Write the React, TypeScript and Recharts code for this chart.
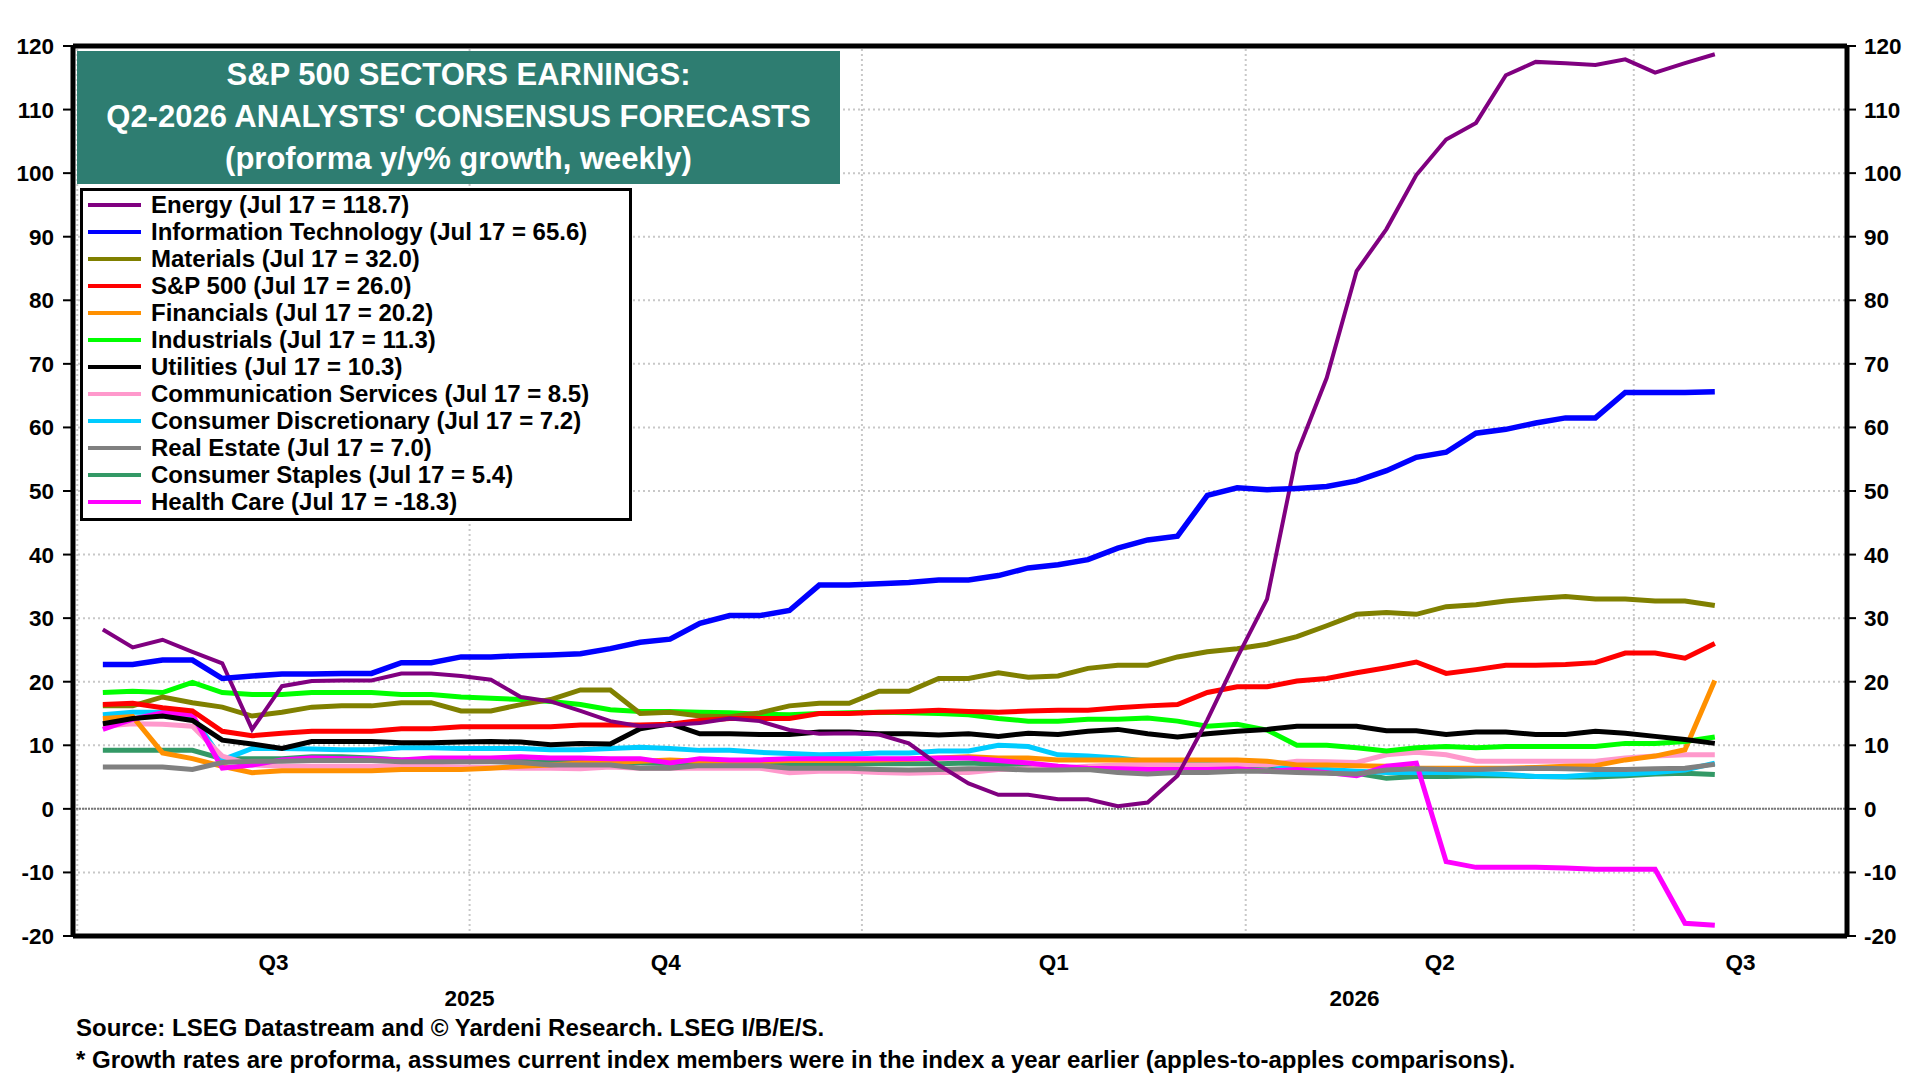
import React from 'react';
import { LineChart, Line, XAxis, YAxis, CartesianGrid, ReferenceLine, Legend } from 'recharts';

const FONT = "'Liberation Sans', Arial, Helvetica, sans-serif";

// Weekly observation dates (plotted positions)
const WEEK_DATES = [
  '2025-07-07', '2025-07-14', '2025-07-21', '2025-07-28', '2025-08-04', '2025-08-11', '2025-08-18', '2025-08-25',
  '2025-09-01', '2025-09-08', '2025-09-15', '2025-09-22', '2025-09-29', '2025-10-06', '2025-10-13', '2025-10-20',
  '2025-10-27', '2025-11-03', '2025-11-10', '2025-11-17', '2025-11-24', '2025-12-01', '2025-12-08', '2025-12-15',
  '2025-12-22', '2025-12-29', '2026-01-05', '2026-01-12', '2026-01-19', '2026-01-26', '2026-02-02', '2026-02-09',
  '2026-02-16', '2026-02-23', '2026-03-02', '2026-03-09', '2026-03-16', '2026-03-23', '2026-03-30', '2026-04-06',
  '2026-04-13', '2026-04-20', '2026-04-27', '2026-05-04', '2026-05-11', '2026-05-18', '2026-05-25', '2026-06-01',
  '2026-06-08', '2026-06-15', '2026-06-22', '2026-06-29', '2026-07-06', '2026-07-13', '2026-07-20',
];

const ENERGY = [28.2, 25.4, 26.6, 24.7, 22.9, 12.5, 19.3, 20.1, 20.2, 20.2, 21.3, 21.3, 20.9, 20.3, 17.6, 16.9, 15.4, 13.8, 13.0, 13.2, 13.5, 14.2, 13.8, 12.4, 11.8, 11.9, 11.7, 10.3, 6.9, 4.0, 2.2, 2.2, 1.5, 1.5, 0.4, 1.0, 5.2, 14.0, 23.8, 33.0, 55.9, 67.8, 84.6, 91.2, 99.7, 105.3, 107.9, 115.4, 117.5, 117.3, 117.0, 117.9, 115.8, 117.3, 118.7];
const INFO_TECH = [22.7, 22.7, 23.4, 23.4, 20.5, 20.9, 21.2, 21.2, 21.3, 21.3, 23.0, 23.0, 23.9, 23.9, 24.1, 24.2, 24.4, 25.2, 26.2, 26.7, 29.2, 30.4, 30.4, 31.2, 35.2, 35.2, 35.4, 35.6, 36.0, 36.0, 36.7, 37.9, 38.4, 39.2, 41.0, 42.3, 42.9, 49.3, 50.5, 50.2, 50.4, 50.7, 51.6, 53.2, 55.3, 56.1, 59.1, 59.7, 60.7, 61.5, 61.5, 65.5, 65.5, 65.5, 65.6];
const MATERIALS = [16.2, 16.2, 17.6, 16.7, 16.0, 14.6, 15.2, 16.0, 16.2, 16.2, 16.7, 16.7, 15.4, 15.4, 16.4, 17.2, 18.7, 18.7, 15.0, 15.2, 14.6, 14.5, 15.1, 16.2, 16.6, 16.6, 18.5, 18.5, 20.5, 20.5, 21.4, 20.7, 20.9, 22.1, 22.6, 22.6, 23.9, 24.7, 25.2, 25.9, 27.1, 28.8, 30.6, 30.9, 30.6, 31.8, 32.1, 32.7, 33.1, 33.4, 33.0, 33.0, 32.7, 32.7, 32.0];
const SP500 = [16.4, 16.6, 15.9, 15.4, 12.2, 11.5, 11.9, 12.2, 12.2, 12.2, 12.6, 12.6, 12.9, 12.9, 12.9, 12.9, 13.2, 13.2, 13.2, 13.3, 13.9, 14.2, 14.2, 14.2, 15.0, 15.0, 15.2, 15.3, 15.5, 15.3, 15.2, 15.4, 15.5, 15.5, 15.9, 16.2, 16.4, 18.3, 19.2, 19.2, 20.1, 20.5, 21.4, 22.2, 23.1, 21.3, 21.9, 22.6, 22.6, 22.7, 23.0, 24.5, 24.5, 23.7, 26.0];
const FINANCIALS = [14.2, 14.5, 8.8, 7.9, 6.7, 5.7, 6.0, 6.0, 6.0, 6.0, 6.2, 6.2, 6.2, 6.4, 6.7, 6.9, 7.2, 7.3, 7.5, 7.7, 7.5, 7.5, 7.5, 7.6, 7.6, 7.6, 7.7, 7.8, 8.0, 8.2, 8.0, 8.0, 7.7, 7.7, 7.7, 7.7, 7.7, 7.7, 7.7, 7.5, 6.9, 6.9, 6.8, 6.7, 6.4, 6.4, 6.4, 6.4, 6.5, 6.7, 6.8, 7.7, 8.3, 9.3, 20.2];
const INDUSTRIALS = [18.3, 18.5, 18.3, 19.9, 18.3, 18.0, 18.0, 18.3, 18.3, 18.3, 18.0, 18.0, 17.6, 17.4, 17.2, 16.9, 16.4, 15.6, 15.3, 15.3, 15.2, 15.1, 14.9, 14.8, 15.0, 15.1, 15.2, 15.1, 15.0, 14.8, 14.2, 13.8, 13.8, 14.1, 14.1, 14.3, 13.8, 13.0, 13.3, 12.4, 10.0, 10.0, 9.6, 9.1, 9.6, 9.8, 9.6, 9.8, 9.8, 9.8, 9.8, 10.3, 10.3, 10.6, 11.3];
const UTILITIES = [13.4, 14.2, 14.6, 13.9, 10.8, 10.2, 9.5, 10.6, 10.6, 10.6, 10.4, 10.4, 10.5, 10.6, 10.5, 10.1, 10.3, 10.2, 12.6, 13.4, 11.8, 11.8, 11.7, 11.7, 12.1, 12.1, 11.8, 11.8, 11.6, 11.8, 11.4, 11.9, 11.7, 12.2, 12.5, 11.8, 11.3, 11.8, 12.2, 12.5, 13.0, 13.0, 13.0, 12.3, 12.3, 11.7, 12.1, 12.1, 11.7, 11.7, 12.2, 11.9, 11.4, 10.9, 10.3];
const COMM_SERVICES = [13.0, 13.4, 13.3, 13.0, 8.3, 6.9, 6.7, 6.7, 6.7, 6.7, 6.7, 6.7, 6.6, 6.5, 6.4, 6.4, 6.3, 6.6, 6.4, 6.4, 6.4, 6.4, 6.4, 5.7, 5.9, 5.9, 5.7, 5.6, 5.7, 5.7, 6.2, 6.3, 6.4, 6.7, 6.9, 7.0, 6.9, 6.9, 7.0, 6.9, 7.5, 7.4, 7.3, 8.5, 8.9, 8.5, 7.5, 7.5, 7.5, 7.5, 7.5, 8.0, 8.3, 8.5, 8.5];
const CONS_DISCRETIONARY = [14.8, 15.2, 15.2, 14.6, 7.7, 9.5, 9.5, 9.4, 9.3, 9.3, 9.6, 9.6, 9.5, 9.5, 9.5, 9.3, 9.3, 9.5, 9.7, 9.5, 9.2, 9.2, 8.9, 8.7, 8.5, 8.6, 8.8, 8.8, 9.1, 9.1, 10.0, 9.8, 8.5, 8.3, 8.0, 7.5, 7.3, 7.2, 7.2, 7.1, 6.4, 6.2, 5.9, 5.7, 5.7, 5.7, 5.6, 5.4, 5.1, 5.1, 5.4, 5.5, 5.7, 6.1, 7.2];
const REAL_ESTATE = [6.6, 6.6, 6.6, 6.2, 7.3, 7.5, 7.5, 7.6, 7.6, 7.6, 7.4, 7.4, 7.4, 7.4, 7.3, 6.9, 6.9, 6.9, 6.4, 6.4, 6.8, 6.8, 6.8, 6.4, 6.4, 6.4, 6.2, 6.1, 6.2, 6.3, 6.3, 6.1, 6.1, 6.2, 5.7, 5.5, 5.7, 5.7, 5.9, 5.9, 5.7, 5.6, 5.5, 6.1, 6.3, 6.2, 6.2, 6.3, 6.4, 6.3, 6.2, 6.2, 6.3, 6.4, 7.0];
const CONS_STAPLES = [9.2, 9.2, 9.2, 9.2, 7.9, 7.9, 7.9, 8.2, 8.2, 8.0, 7.7, 7.7, 7.7, 7.7, 7.5, 7.3, 7.3, 7.2, 7.2, 7.1, 7.1, 7.1, 7.1, 7.1, 7.1, 7.1, 7.1, 7.1, 7.1, 7.2, 7.0, 6.7, 6.6, 6.4, 6.4, 6.4, 6.4, 6.5, 6.7, 6.7, 6.3, 5.7, 5.6, 4.8, 5.1, 5.1, 5.2, 5.2, 5.1, 5.0, 5.0, 5.2, 5.5, 5.6, 5.4];
const HEALTH_CARE = [12.5, 14.1, 15.1, 14.8, 6.4, 6.9, 7.7, 8.0, 7.9, 7.9, 7.7, 8.0, 8.0, 8.0, 8.2, 8.0, 8.0, 7.9, 7.9, 7.2, 7.9, 7.7, 7.7, 7.9, 7.9, 7.9, 7.9, 7.9, 8.0, 8.0, 7.6, 7.2, 6.7, 6.4, 6.3, 6.2, 6.2, 6.2, 6.3, 5.9, 6.2, 5.7, 5.2, 6.7, 7.2, -8.3, -9.2, -9.2, -9.2, -9.3, -9.5, -9.5, -9.5, -18.0, -18.3];

// Axis calendar
const AXIS_START = '2025-06-30';
const AXIS_END = '2026-08-20';
const MONTH_STARTS = [
  '2025-07-01', '2025-08-01', '2025-09-01', '2025-10-01', '2025-11-01', '2025-12-01', '2026-01-01',
  '2026-02-01', '2026-03-01', '2026-04-01', '2026-05-01', '2026-06-01', '2026-07-01', '2026-08-01',
];
const QUARTER_STARTS = ['2025-07-01', '2025-10-01', '2026-01-01', '2026-04-01', '2026-07-01'];
const QUARTER_LABELS = ['Q3', 'Q4', 'Q1', 'Q2', 'Q3'];
const YEAR_STARTS = ['2025-07-01', '2026-01-01'];
const YEAR_LABELS = ['2025', '2026'];
const Y_TICKS = [-20, -10, 0, 10, 20, 30, 40, 50, 60, 70, 80, 90, 100, 110, 120];

const SERIES = [
  { key: 'energy', name: 'Energy', note: 'Jul 17 = 118.7', color: '#800080', width: 4, values: ENERGY },
  { key: 'it', name: 'Information Technology', note: 'Jul 17 = 65.6', color: '#0000FF', width: 5.5, values: INFO_TECH },
  { key: 'materials', name: 'Materials', note: 'Jul 17 = 32.0', color: '#808000', width: 5, values: MATERIALS },
  { key: 'sp500', name: 'S&P 500', note: 'Jul 17 = 26.0', color: '#FF0000', width: 5, values: SP500 },
  { key: 'financials', name: 'Financials', note: 'Jul 17 = 20.2', color: '#FF9000', width: 5, values: FINANCIALS },
  { key: 'industrials', name: 'Industrials', note: 'Jul 17 = 11.3', color: '#00FF00', width: 5, values: INDUSTRIALS },
  { key: 'utilities', name: 'Utilities', note: 'Jul 17 = 10.3', color: '#000000', width: 5, values: UTILITIES },
  { key: 'comm', name: 'Communication Services', note: 'Jul 17 = 8.5', color: '#FF99CC', width: 5, values: COMM_SERVICES },
  { key: 'discretionary', name: 'Consumer Discretionary', note: 'Jul 17 = 7.2', color: '#00CCFF', width: 5, values: CONS_DISCRETIONARY },
  { key: 'realEstate', name: 'Real Estate', note: 'Jul 17 = 7.0', color: '#808080', width: 5, values: REAL_ESTATE },
  { key: 'staples', name: 'Consumer Staples', note: 'Jul 17 = 5.4', color: '#339966', width: 5, values: CONS_STAPLES },
  { key: 'healthCare', name: 'Health Care', note: 'Jul 17 = -18.3', color: '#FF00FF', width: 5, values: HEALTH_CARE },
];
// bottom to top drawing order
const DRAW_ORDER = ['staples', 'discretionary', 'comm', 'financials', 'healthCare', 'realEstate', 'industrials', 'utilities', 'materials', 'sp500', 'energy', 'it'];

const BASE = Date.UTC(2025, 6, 1);
const toDay = (s: string) => {
  const [y, m, d] = s.split('-').map(Number);
  return (Date.UTC(y, m - 1, d) - BASE) / 86400000;
};

const DOMAIN: [number, number] = [toDay(AXIS_START), toDay(AXIS_END)];
const MONTH_TICK_DAYS = MONTH_STARTS.map(toDay);
const QUARTER_START_DAYS = QUARTER_STARTS.map(toDay);
const QUARTER_CENTERS = QUARTER_START_DAYS.map((d, i) => (d + (i + 1 < QUARTER_START_DAYS.length ? QUARTER_START_DAYS[i + 1] : DOMAIN[1])) / 2);
const YEAR_START_DAYS = YEAR_STARTS.map(toDay);
const YEAR_CENTERS = YEAR_START_DAYS.map((d, i) => (d + (i + 1 < YEAR_START_DAYS.length ? YEAR_START_DAYS[i + 1] : DOMAIN[1])) / 2);

const DATA = WEEK_DATES.map((date, i) => {
  const row: Record<string, number | string> = { date, day: toDay(date) };
  SERIES.forEach((s) => {
    row[s.key] = s.values[i];
  });
  return row;
});

const TICK_STYLE = { fontSize: 22.5, fontWeight: 700, fill: '#000', fontFamily: FONT };

const LegendBox = () => (
  <div
    style={{
      width: 552,
      height: 333,
      boxSizing: 'border-box',
      border: '3px solid #000',
      background: '#fff',
      padding: '0 0 0 5px',
      fontFamily: FONT,
    }}
  >
    {SERIES.map((s) => (
      <div key={s.key} style={{ display: 'flex', alignItems: 'center', height: 27 }}>
        <div style={{ width: 53, height: 4, background: s.color, marginRight: 10, flex: 'none' }} />
        <span style={{ fontSize: 24, fontWeight: 700, lineHeight: '27px', whiteSpace: 'nowrap', color: '#000' }}>
          {s.name} ({s.note})
        </span>
      </div>
    ))}
  </div>
);

export default function App() {
  const ordered = DRAW_ORDER.map((k) => SERIES.find((s) => s.key === k)!);
  return (
    <div style={{ position: 'absolute', left: 0, top: 0, width: 1920, height: 1080, background: '#fff', fontFamily: FONT, overflow: 'hidden' }}>
      <LineChart width={1920} height={1080} data={DATA} margin={{ top: 46, right: 0, bottom: 62, left: 0 }}>
        <CartesianGrid xAxisId="m" yAxisId="left" vertical={false} stroke="#c8c8c8" strokeWidth={2} strokeDasharray="2 3" />
        <XAxis
          xAxisId="m"
          type="number"
          dataKey="day"
          domain={DOMAIN}
          allowDataOverflow
          ticks={MONTH_TICK_DAYS}
          interval={0}
          tick={false}
          tickSize={7}
          tickLine={{ stroke: '#000', strokeWidth: 2 }}
          axisLine={{ stroke: '#000', strokeWidth: 5 }}
          height={12}
        />
        <XAxis
          xAxisId="q"
          type="number"
          dataKey="day"
          domain={DOMAIN}
          allowDataOverflow
          ticks={QUARTER_CENTERS}
          interval={0}
          tickFormatter={(_v: number, i: number) => QUARTER_LABELS[i]}
          tick={TICK_STYLE}
          tickLine={false}
          axisLine={false}
          tickSize={0}
          tickMargin={6}
          height={34}
        />
        <XAxis
          xAxisId="y"
          type="number"
          dataKey="day"
          domain={DOMAIN}
          allowDataOverflow
          ticks={YEAR_CENTERS}
          interval={0}
          tickFormatter={(_v: number, i: number) => YEAR_LABELS[i]}
          tick={TICK_STYLE}
          tickLine={false}
          axisLine={false}
          tickSize={0}
          tickMargin={8}
          height={36}
        />
        <YAxis
          yAxisId="left"
          domain={[-20, 120]}
          ticks={Y_TICKS}
          interval={0}
          allowDataOverflow
          width={73}
          tickSize={10}
          tickMargin={9}
          tick={TICK_STYLE}
          tickLine={{ stroke: '#000', strokeWidth: 2 }}
          axisLine={{ stroke: '#000', strokeWidth: 5 }}
        />
        <YAxis
          yAxisId="right"
          orientation="right"
          domain={[-20, 120]}
          ticks={Y_TICKS}
          interval={0}
          allowDataOverflow
          width={73}
          tickSize={9}
          tickMargin={8}
          tick={TICK_STYLE}
          tickLine={{ stroke: '#000', strokeWidth: 2 }}
          axisLine={{ stroke: '#000', strokeWidth: 5 }}
        />
        {QUARTER_START_DAYS.map((d) => (
          <ReferenceLine key={`q${d}`} xAxisId="m" yAxisId="left" x={d} stroke="#c8c8c8" strokeWidth={2} strokeDasharray="2 3" />
        ))}
        <ReferenceLine xAxisId="m" yAxisId="left" y={0} stroke="#777" strokeWidth={2} strokeDasharray="2 1" />
        {ordered.map((s) => (
          <Line
            key={s.key}
            xAxisId="m"
            yAxisId="left"
            type="linear"
            dataKey={s.key}
            name={s.name}
            stroke={s.color}
            strokeWidth={s.width}
            dot={false}
            activeDot={false}
            isAnimationActive={false}
          />
        ))}
        <ReferenceLine xAxisId="m" yAxisId="left" y={120} stroke="#000" strokeWidth={5} />
        <Legend
          layout="vertical"
          align="center"
          verticalAlign="middle"
          content={() => <LegendBox />}
          wrapperStyle={{ left: 80, top: 188, width: 552, height: 333 }}
        />
      </LineChart>

      <div
        style={{
          position: 'absolute',
          left: 77,
          top: 51,
          width: 763,
          height: 133,
          background: '#2E7D71',
          color: '#fff',
          fontWeight: 700,
          fontSize: 31,
          lineHeight: '42px',
          textAlign: 'center',
          paddingTop: 3,
          boxSizing: 'border-box',
        }}
      >
        <div>S&amp;P 500 SECTORS EARNINGS:</div>
        <div>Q2-2026 ANALYSTS' CONSENSUS FORECASTS</div>
        <div>(proforma y/y% growth, weekly)</div>
      </div>

      <div style={{ position: 'absolute', left: 76, top: 1014, fontSize: 24, fontWeight: 700, lineHeight: '28px', whiteSpace: 'nowrap' }}>
        Source: LSEG Datastream and © Yardeni Research. LSEG I/B/E/S.
      </div>
      <div style={{ position: 'absolute', left: 76, top: 1046, fontSize: 24, fontWeight: 700, lineHeight: '28px', whiteSpace: 'nowrap' }}>
        * Growth rates are proforma, assumes current index members were in the index a year earlier (apples-to-apples comparisons).
      </div>
    </div>
  );
}
